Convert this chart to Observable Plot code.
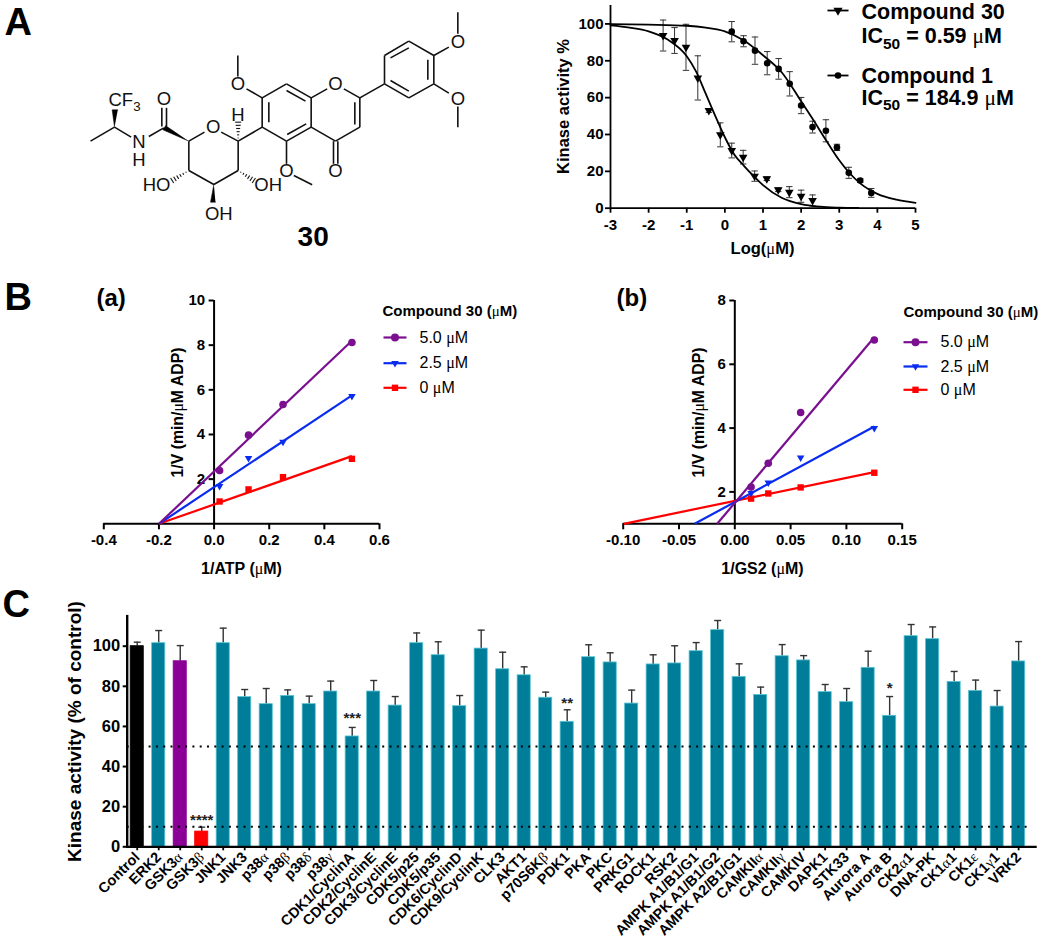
<!DOCTYPE html>
<html>
<head>
<meta charset="utf-8">
<script src="https://cdn.jsdelivr.net/npm/d3@7"></script>
<script src="https://cdn.jsdelivr.net/npm/@observablehq/plot@0.6"></script>
<style>
html,body{margin:0;padding:0;background:#fff;}
#page{position:relative;width:1050px;height:941px;overflow:hidden;background:#fff;}
#page>div{position:absolute;}
#page svg{overflow:visible;max-width:none;}
</style>
</head>
<body>
<div id="page"></div>
<script>
// ---------- Panel A : dose-response ----------
const c30X   = [-1.62,-1.32,-1.02,-0.71,-0.42,-0.12,0.18,0.48,0.78,1.10,1.40,1.69,2.00,2.30];
const c30Y   = [93.7,91,87.3,70.7,53,39.8,31.3,27.7,17.4,16,10,8.7,6.5,4.2];
const c30Err = [8.4,7,12.5,12,1,6.5,4,3.7,2.8,1,1,3,3.3,3];
const c1X    = [0.18,0.49,0.79,1.11,1.41,1.70,2.00,2.30,2.65,2.94,3.25,3.55,3.84];
const c1Y    = [95.8,90.6,85.5,78.7,75.6,67.5,55.7,44,42,33,19.2,15,8.3];
const c1Err  = [5.5,3,7.4,6.3,5.6,6.6,4.4,3.2,6,1.7,3,1,2.4];
const fit30X = [-3,-2.5,-2,-1.5,-1,-0.75,-0.5,-0.25,0,0.25,0.5,0.75,1,1.5,2,2.5,3,3.5];
const fit30Y = [99.2,98,96,91.5,82.5,74,62,50,38.5,29,23,17.5,12.5,5.5,2.2,0.8,0.3,0.1];
const fit1X  = [-3,-2,-1,-0.5,0,0.5,1,1.5,2,2.3,2.65,3,3.25,3.55,4,4.5,5];
const fit1Y  = [99.9,99.6,99,98,96,91,83,73.5,58,48.5,37,26,19.5,13.5,7.8,4.6,2.9];
const aXTicks = [-3,-2,-1,0,1,2,3,4,5];
const aYTicks = [0,20,40,60,80,100];

// ---------- Panel B(a) / B(b) : double reciprocal ----------
const baX = [0.02,0.125,0.25,0.5];
const baPurple = [2.39,3.97,5.34,8.12];
const baBlue   = [1.69,2.94,3.67,5.72];
const baRed    = [1.0,1.54,2.09,2.91];
const baFits = [[-0.2,0,0.5,3.03,"#ff0000"],[-0.2,0,0.5,5.75,"#0a2cf0"],[-0.2,0,0.5,8.2,"#7a1090"]];
const bbX = [0.0146,0.03,0.059,0.125];
const bbPurple = [2.15,2.9,4.49,6.76];
const bbBlue   = [1.96,2.29,3.07,4.0];
const bbRed    = [1.79,1.95,2.14,2.6];
const bbFits = [[-0.0995,1,0.125,2.62,"#ff0000"],[-0.036,1,0.125,4.05,"#0a2cf0"],[-0.0158,1,0.125,6.85,"#7a1090"]];
const baXTicks = [-0.4,-0.2,0,0.2,0.4,0.6];
const baYTicks = [2,4,6,8,10];
const bbXTicks = [-0.1,-0.05,0,0.05,0.1,0.15];
const bbYTicks = [2,4,6,8];
const concLabels = ["5.0 μM","2.5 μM","0 μM"];

// ---------- Panel C : kinase panel ----------
const kinases = ["Control","ERK2","GSK3α","GSK3β","JNK1","JNK3","p38α","p38β","p38δ","p38γ","CDK1/CyclinA","CDK2/CyclinE","CDK3/CyclinE","CDK5/p25","CDK5/p35","CDK6/CyclinD","CDK9/CyclinK","CLK3","AKT1","p70S6Kβ","PDK1","PKA","PKC","PRKG1","ROCK1","RSK2","AMPK A1/B1/G1","AMPK A1/B1/G2","AMPK A2/B1/G1","CAMKIIα","CAMKIIγ","CAMKIV","DAPK1","STK33","Aurora A","Aurora B","CK2α1","DNA-PK","CK1α1","CK1ε","CK1γ1","VRK2"];
const activity = [100,101.5,92.5,7.6,101.5,74.6,71.1,75.2,71.1,77.4,55,77.4,70.4,101.5,95.5,70.1,98.8,88.5,85.5,74.3,62.3,94.5,91.9,71.4,90.9,91.4,97.5,108,84.7,75.7,95,92.9,77.1,72.1,89.2,65.3,105,103.5,82.2,77.7,69.9,92.4];
const errTop   = [102,107.8,100.3,9.8,109,78.4,78.9,78.2,75.1,82.6,59.5,82.9,74.9,106.6,102.2,75.4,108,97,89.7,77.1,68.3,100.7,96.7,78.1,95.7,100.2,101.8,112.8,91.2,79.6,100.8,95.3,80.9,78.9,97.5,74.9,110.8,109.6,87.4,83.1,77.9,102.3];
const specialFill = {"Control":"#000000","GSK3α":"#8a0097","GSK3β":"#ff0000"};
const sigMarks = [["GSK3β","****",13.2],["CDK1/CyclinA","***",64.2],["PDK1","**",71.6],["Aurora B","*",79]];
const cYTicks = [0,20,40,60,80,100];
const thresholds = [50,10];

// ---------- Structure of compound 30 (drawing units) ----------
const bonds = [[270,422,342,380],[342,380,392,410],[445,408,490,382],[484,378,484,322],[498,378,498,322],
 [565,422,612,395],[662,395,713,422],[713,422,713,510],[713,510,640,552],[640,552,565,510],[565,510,565,422],[713,422,785,380],
 [785,380,785,292],[785,292,858,250],[858,250,932,292],[932,292,932,380],[932,380,858,422],[858,422,785,380],
 [805,365,805,305],[858,270,915,302],[917,370,860,402],
 [785,292,738,265],[712,228,712,165],[858,422,858,490],[880,525,935,553],
 [932,292,980,265],[1030,265,1078,292],[1078,292,1078,380],[1063,305,1063,372],[1078,380,1005,422],[1005,422,932,380],
 [999,422,999,490],[1012,422,1012,490],[1078,292,1152,250],
 [1152,250,1152,165],[1152,165,1225,122],[1225,122,1300,165],[1300,165,1300,250],[1300,250,1225,292],[1225,292,1152,250],
 [1170,172,1225,142],[1282,178,1282,238],[1225,272,1170,240],
 [1300,165,1345,140],[1372,100,1372,35],[1300,250,1345,278],[1372,318,1372,380]];
const wedges = [[[342,380],[335,328],[352,328]],[[565,422],[487,388],[496,375]],[[640,552],[630,605],[645,605]]];
const hashes = [[713,422,713,365],[565,510,515,540],[713,510,760,540]];
const atoms = [["O",490,297],["N\nH",415,452],["O",638,380],["H",712,345],["HO",468,553],["OH",803,553],["OH",655,640],
 ["O",712,252],["O",858,512],["O",1005,252],["O",1005,512],["O",1372,125],["O",1372,295],["CF₃",372,300]];

// ---------- Page annotations ----------
const panelLetters = [["A",4,22.4],["B",4,297],["C",2,604]];
const panelTags = [["(a)",96,298],["(b)",616,298]];
const axisTitles = [
 ["Log(μM)",762,248,0,16.5],["Kinase activity %",563,106,-90,16.5],
 ["1/ATP (μM)",241,568,0,16],["1/V (min/μM ADP)",177,412,-90,15.8],
 ["1/GS2 (μM)",762,568,0,16],["1/V (min/μM ADP)",698,412,-90,15.8],
 ["Kinase activity (% of control)",74,731,-90,19]];
const bigLegendText = [["Compound 30\nIC₅₀ = 0.59 μM",861,23,1.12],["Compound 1\nIC₅₀ = 184.9 μM",861,86.5,1.0]];
const bigLegendKeys = [[827,848,10,"triangle",180,3.4],[827,848,75,"circle",0,3.3]];
const seriesKeys = [["#7a1090","circle",0,4],["#0a2cf0","triangle",180,2.8],["#ff0000","square",0,3.6]];
const subLegends = [
 {title:"Compound 30 (μM)",tx:382,ty:310.7,x1:383,x2:406,xt:419,rows:[337,362.7,387.3]},
 {title:"Compound 30 (μM)",tx:903,ty:312,x1:903,x2:927,xt:940,rows:[341.7,366,389.3]}];

// ---------- helpers ----------
const FONT = '"Liberation Sans", Arial, sans-serif';
const baseStyle = {background:"transparent",fontFamily:FONT,fontWeight:"bold",color:"#000"};
const fmt = s => d => d3.format(s)(d).replace("−","-");
const capMark = {draw(ctx,size){const r=Math.sqrt(size/Math.PI);ctx.moveTo(-r,0);ctx.lineTo(r,0);}};
const page = document.getElementById("page");

function richText(svg){
  const walker=document.createTreeWalker(svg,NodeFilter.SHOW_TEXT);
  const nodes=[];while(walker.nextNode())nodes.push(walker.currentNode);
  const NS="http://www.w3.org/2000/svg";
  const subMap={"₀":"0","₃":"3","₅":"5"};
  for(const n of nodes){
    if(!/[αβγδεμ₀₃₅]/.test(n.nodeValue))continue;
    const parts=n.nodeValue.split(/([αβγδεμ]|[₀₃₅]+)/).filter(p=>p!=="");
    const frag=document.createDocumentFragment();let resume=false;
    for(const p of parts){
      const t=document.createElementNS(NS,"tspan");
      if(/^[₀₃₅]+$/.test(p)){t.setAttribute("font-size","0.72em");t.setAttribute("dy","0.35em");t.textContent=[...p].map(c=>subMap[c]).join("");frag.appendChild(t);resume=true;continue;}
      if(/^[αβγδεμ]$/.test(p)){t.setAttribute("font-family",'"Liberation Serif",serif');t.setAttribute("font-weight","normal");}
      t.textContent=p;
      if(resume){t.setAttribute("dy","-0.252em");resume=false;}
      frag.appendChild(t);
    }
    n.parentNode.replaceChild(frag,n);
  }
}
function place(svg,left,top){
  const d=document.createElement("div");d.style.left=left+"px";d.style.top=top+"px";
  d.appendChild(svg);page.appendChild(d);richText(svg);
}

// ---------- Panel A plot ----------
const c30Rows=c30X.map((x,i)=>({x,y:c30Y[i],e:c30Err[i]}));
const c1Rows=c1X.map((x,i)=>({x,y:c1Y[i],e:c1Err[i]}));
const errMarks=rows=>[
 Plot.ruleX(rows,{x:"x",y1:d=>d.y-d.e,y2:d=>d.y+d.e,stroke:"#333",strokeWidth:1}),
 Plot.dot(rows,{x:"x",y:d=>d.y+d.e,symbol:capMark,r:3.2,fill:"none",stroke:"#333",strokeWidth:1}),
 Plot.dot(rows,{x:"x",y:d=>d.y-d.e,symbol:capMark,r:3.2,fill:"none",stroke:"#333",strokeWidth:1})];
place(Plot.plot({
  width:410,height:250,marginLeft:70,marginRight:35,marginTop:5,marginBottom:42.3,
  style:{...baseStyle,fontSize:"15px"},
  x:{domain:[-3,5]},y:{domain:[0,110]},
  marks:[
    ...errMarks(c30Rows),...errMarks(c1Rows),
    Plot.line(fit30X.map((x,i)=>[x,fit30Y[i]]),{x:d=>d[0],y:d=>d[1],curve:"monotone-x",stroke:"#000",strokeWidth:1.8}),
    Plot.line(fit1X.map((x,i)=>[x,fit1Y[i]]),{x:d=>d[0],y:d=>d[1],curve:"monotone-x",stroke:"#000",strokeWidth:1.8}),
    Plot.dot(c30Rows,{x:"x",y:"y",symbol:"triangle",rotate:180,r:3.2,fill:"#000"}),
    Plot.dot(c1Rows,{x:"x",y:"y",symbol:"circle",r:3.3,fill:"#000"}),
    Plot.ruleY([0],{strokeWidth:1.8}),Plot.ruleX([-3],{strokeWidth:1.8}),
    Plot.axisX({ticks:aXTicks,tickFormat:fmt("d"),label:null,tickSize:5,tickPadding:6,strokeWidth:1.8}),
    Plot.axisY({ticks:aYTicks,label:null,tickSize:5,tickPadding:2,strokeWidth:1.8})
  ]}),540,0);

// ---------- Panel B plots ----------
function reciprocal({xs,purple,blue,red,fits,xDomain,yDomain,xTicks,yTicks,xFmt,left,width,marginLeft,marginRight,tickDX}){
  const pts=(ys,c,sym,rot,r)=>Plot.dot(xs.map((x,i)=>({x,y:ys[i]})),{x:"x",y:"y",fill:c,symbol:sym,rotate:rot,r});
  return place(Plot.plot({
    width,height:300,marginLeft,marginRight,marginTop:20,marginBottom:56.7,
    style:{...baseStyle,fontSize:"15px"},
    x:{domain:xDomain},y:{domain:yDomain,axis:null},
    marks:[
      Plot.text(yTicks,{x:0,y:d=>d,text:d=>String(d),dx:-9,textAnchor:"end",fill:"#000"}),
      Plot.ruleY(yTicks,{x1:0,x2:tickDX,strokeWidth:2}),
      Plot.ruleX([0],{y1:yDomain[0],y2:yDomain[1],strokeWidth:2}),
      Plot.ruleY([yDomain[0]],{strokeWidth:2}),
      Plot.axisX({ticks:xTicks,tickFormat:fmt(xFmt),label:null,tickSize:6,tickPadding:5,strokeWidth:2}),
      Plot.link(fits,{x1:d=>d[0],y1:d=>d[1],x2:d=>d[2],y2:d=>d[3],stroke:d=>d[4],strokeWidth:2.2}),
      pts(red,"#ff0000","square",0,3.6),
      pts(blue,"#0a2cf0","triangle",180,2.8),
      pts(purple,"#7a1090","circle",0,3.8)
    ]}),left,280);
}
reciprocal({xs:baX,purple:baPurple,blue:baBlue,red:baRed,fits:baFits,xDomain:[-0.4,0.6],yDomain:[0,10],xTicks:baXTicks,yTicks:baYTicks,xFmt:".1f",left:0,width:400,marginLeft:103.3,marginRight:21,tickDX:-0.018});
reciprocal({xs:bbX,purple:bbPurple,blue:bbBlue,red:bbRed,fits:bbFits,xDomain:[-0.1,0.15],yDomain:[1,8],xTicks:bbXTicks,yTicks:bbYTicks,xFmt:".2f",left:530,width:390,marginLeft:92.7,marginRight:18.3,tickDX:-0.0045});

// ---------- Panel C plot ----------
const rows=kinases.map((k,i)=>({k,v:activity[i],top:errTop[i]}));
place(Plot.plot({
  width:1050,height:351,marginLeft:126.7,marginRight:13.3,marginTop:25.6,marginBottom:94.7,
  style:{...baseStyle,fontSize:"14.5px"},
  color:{type:"identity"},
  x:{type:"band",domain:kinases,paddingInner:0.39,paddingOuter:0.36,align:0.224,round:false},
  y:{domain:[0,115]},
  marks:[
    Plot.ruleX(rows,{x:"k",y1:"v",y2:"top",stroke:"#333",strokeWidth:1.4}),
    Plot.dot(rows,{x:"k",y:"top",symbol:capMark,r:3.5,fill:"none",stroke:"#333",strokeWidth:1.4}),
    Plot.barY(rows,{x:"k",y:"v",fill:d=>specialFill[d.k]??"#007d99",stroke:d=>d.k==="Control"?"#000":(specialFill[d.k]??"#58c3d2"),strokeWidth:0.8}),
    Plot.ruleY(thresholds,{stroke:"#000",strokeWidth:2,strokeDasharray:"2 5.3",insetRight:5}),
    Plot.text(sigMarks,{x:d=>d[0],y:d=>d[2],text:d=>d[1],fontSize:15,fill:"#222"}),
    Plot.ruleY([0],{strokeWidth:2.2}),
    Plot.frame({anchor:"left",strokeWidth:2.4,stroke:"#000"}),
    Plot.axisX({tickRotate:-45,label:null,tickSize:4,tickPadding:4,strokeWidth:1.8}),
    Plot.axisY({ticks:cYTicks,label:null,tickSize:4,tickPadding:3,strokeWidth:2,fontSize:16.5})
  ]
}),0,590);

// ---------- Structure ----------
const hatchLines=hashes.flatMap(([a,b,c,d])=>d3.range(1,7).map(i=>{
  const t=i/6,w=t*9,L=Math.hypot(c-a,d-b),nx=-(d-b)/L,ny=(c-a)/L,px=a+(c-a)*t,py=b+(d-b)*t;
  return [px-nx*w,py-ny*w,px+nx*w,py+ny*w];}));
place(Plot.plot({
  width:530,height:260,margin:0,axis:null,
  style:{...baseStyle,fontWeight:"normal"},
  x:{domain:[0,1590]},y:{domain:[780,0]},
  marks:[
    Plot.link(bonds,{x1:d=>d[0],y1:d=>d[1],x2:d=>d[2],y2:d=>d[3],stroke:"#111",strokeWidth:1.6}),
    Plot.link(hatchLines,{x1:d=>d[0],y1:d=>d[1],x2:d=>d[2],y2:d=>d[3],stroke:"#111",strokeWidth:1.1}),
    ...wedges.map(w=>Plot.line(w,{x:d=>d[0],y:d=>d[1],fill:"#000",stroke:"#000",strokeWidth:0.5})),
    Plot.text(atoms,{x:d=>d[1],y:d=>d[2],text:d=>d[0],fontSize:18.5,lineHeight:1,fill:"#111"}),
    Plot.text([["30",938,710]],{x:d=>d[1],y:d=>d[2],text:d=>d[0],fontSize:28,fontWeight:"bold",fill:"#000"})
  ]}),0,0);

// ---------- Overlay: panel letters, axis titles, legends ----------
const legendLines=subLegends.flatMap(L=>L.rows.map((y,i)=>({x1:L.x1,x2:L.x2,xm:(L.x1+L.x2)/2,y,xt:L.xt,label:concLabels[i],key:seriesKeys[i]})));
place(Plot.plot({
  width:1050,height:941,margin:0,axis:null,
  style:{...baseStyle},
  x:{type:"identity"},y:{type:"identity"},
  marks:[
    Plot.text(panelLetters,{x:d=>d[1],y:d=>d[2],text:d=>d[0],textAnchor:"start",fontSize:38,fontWeight:"bold",fill:"#000"}),
    Plot.text(panelTags,{x:d=>d[1],y:d=>d[2],text:d=>d[0],textAnchor:"start",fontSize:24,fontWeight:"bold",fill:"#000"}),
    ...axisTitles.map(t=>Plot.text([t],{x:d=>d[1],y:d=>d[2],text:d=>d[0],rotate:t[3],fontSize:t[4],fontWeight:"bold",fill:"#000"})),
    ...bigLegendText.map(t=>Plot.text([t],{x:d=>d[1],y:d=>d[2],text:d=>d[0],lineHeight:t[3],textAnchor:"start",fontSize:21.5,fontWeight:"bold",fill:"#000"})),
    Plot.link(bigLegendKeys,{x1:d=>d[0],x2:d=>d[1],y1:d=>d[2],y2:d=>d[2],stroke:"#000",strokeWidth:1.8}),
    ...bigLegendKeys.map(k=>Plot.dot([k],{x:d=>(d[0]+d[1])/2,y:d=>d[2],symbol:k[3],rotate:k[4],r:k[5],fill:"#000"})),
    Plot.text(subLegends,{x:"tx",y:"ty",text:"title",textAnchor:"start",fontSize:15,fontWeight:"bold",fill:"#000",style:"letter-spacing:1.8px"}),
    Plot.link(legendLines,{x1:"x1",x2:"x2",y1:"y",y2:"y",stroke:d=>d.key[0],strokeWidth:2.2}),
    ...legendLines.map(l=>Plot.dot([l],{x:"xm",y:"y",symbol:l.key[1],rotate:l.key[2],r:l.key[3],fill:l.key[0]})),
    Plot.text(legendLines,{x:"xt",y:"y",text:"label",textAnchor:"start",fontSize:16,fontWeight:"normal",fill:"#000"})
  ]}),0,0);
</script>
</body>
</html>
